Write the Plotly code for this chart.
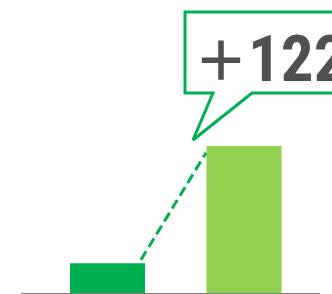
import plotly.graph_objects as go

# Data
categories = ["Before", "After"]
values = [31, 153]
bar_colors = ["#00B050", "#92D050"]
callout_sign = "＋"
callout_number = "122"

W, H = 332, 294
ML, MR, MT, MB = 21, 12, 0, 1
PW, PH = W - ML - MR, H - MT - MB

def xp(px):
    return (px - ML) / PW

def yp(py):
    return (H - MB - py) / PH

fig = go.Figure()
fig.add_trace(go.Bar(
    x=categories, y=values, marker=dict(color=bar_colors, line=dict(width=0)),
    width=0.55, showlegend=False, hoverinfo="skip",
))

# dashed connector between bar tops
fig.add_shape(type="line", xref="x", yref="y",
              x0=0.245, y0=values[0] + 3.5, x1=0.722, y1=values[1] - 7,
              line=dict(color="#00B050", width=3, dash="10px,5px"))

# callout bubble
path = (f"M {xp(213)},{yp(93)} L {xp(193)},{yp(140)} L {xp(252)},{yp(93)} "
        f"L {xp(345)},{yp(93)} L {xp(345)},{yp(12)} L {xp(185)},{yp(12)} "
        f"L {xp(185)},{yp(93)} Z")
fig.add_shape(type="path", xref="paper", yref="paper", path=path,
              line=dict(color="#00B050", width=3), fillcolor="white", layer="above")

text = (f"<b><span style=\"font-family:'Noto Sans CJK JP';font-size:54px\">{callout_sign}</span>"
        f"{callout_number}</b>")
fig.add_annotation(xref="paper", yref="paper", x=xp(192), y=yp(58),
                   xanchor="left", yanchor="middle", showarrow=False,
                   text=text,
                   font=dict(family="Roboto Condensed, Roboto, sans-serif",
                             size=65, color="#505050"))

fig.update_layout(
    width=W, height=H, margin=dict(l=ML, r=MR, t=MT, b=MB),
    paper_bgcolor="white", plot_bgcolor="white", bargap=0.45,
    xaxis=dict(range=[-0.6337, 1.5568], showticklabels=False, showgrid=False,
               zeroline=False, showline=True, linecolor="#808080", linewidth=1, ticks=""),
    yaxis=dict(range=[0, 304.95], visible=False, showgrid=False, zeroline=False),
)
fig.write_html("out.html", post_script="document.body.style.margin='0';",
               config={"displayModeBar": False})
